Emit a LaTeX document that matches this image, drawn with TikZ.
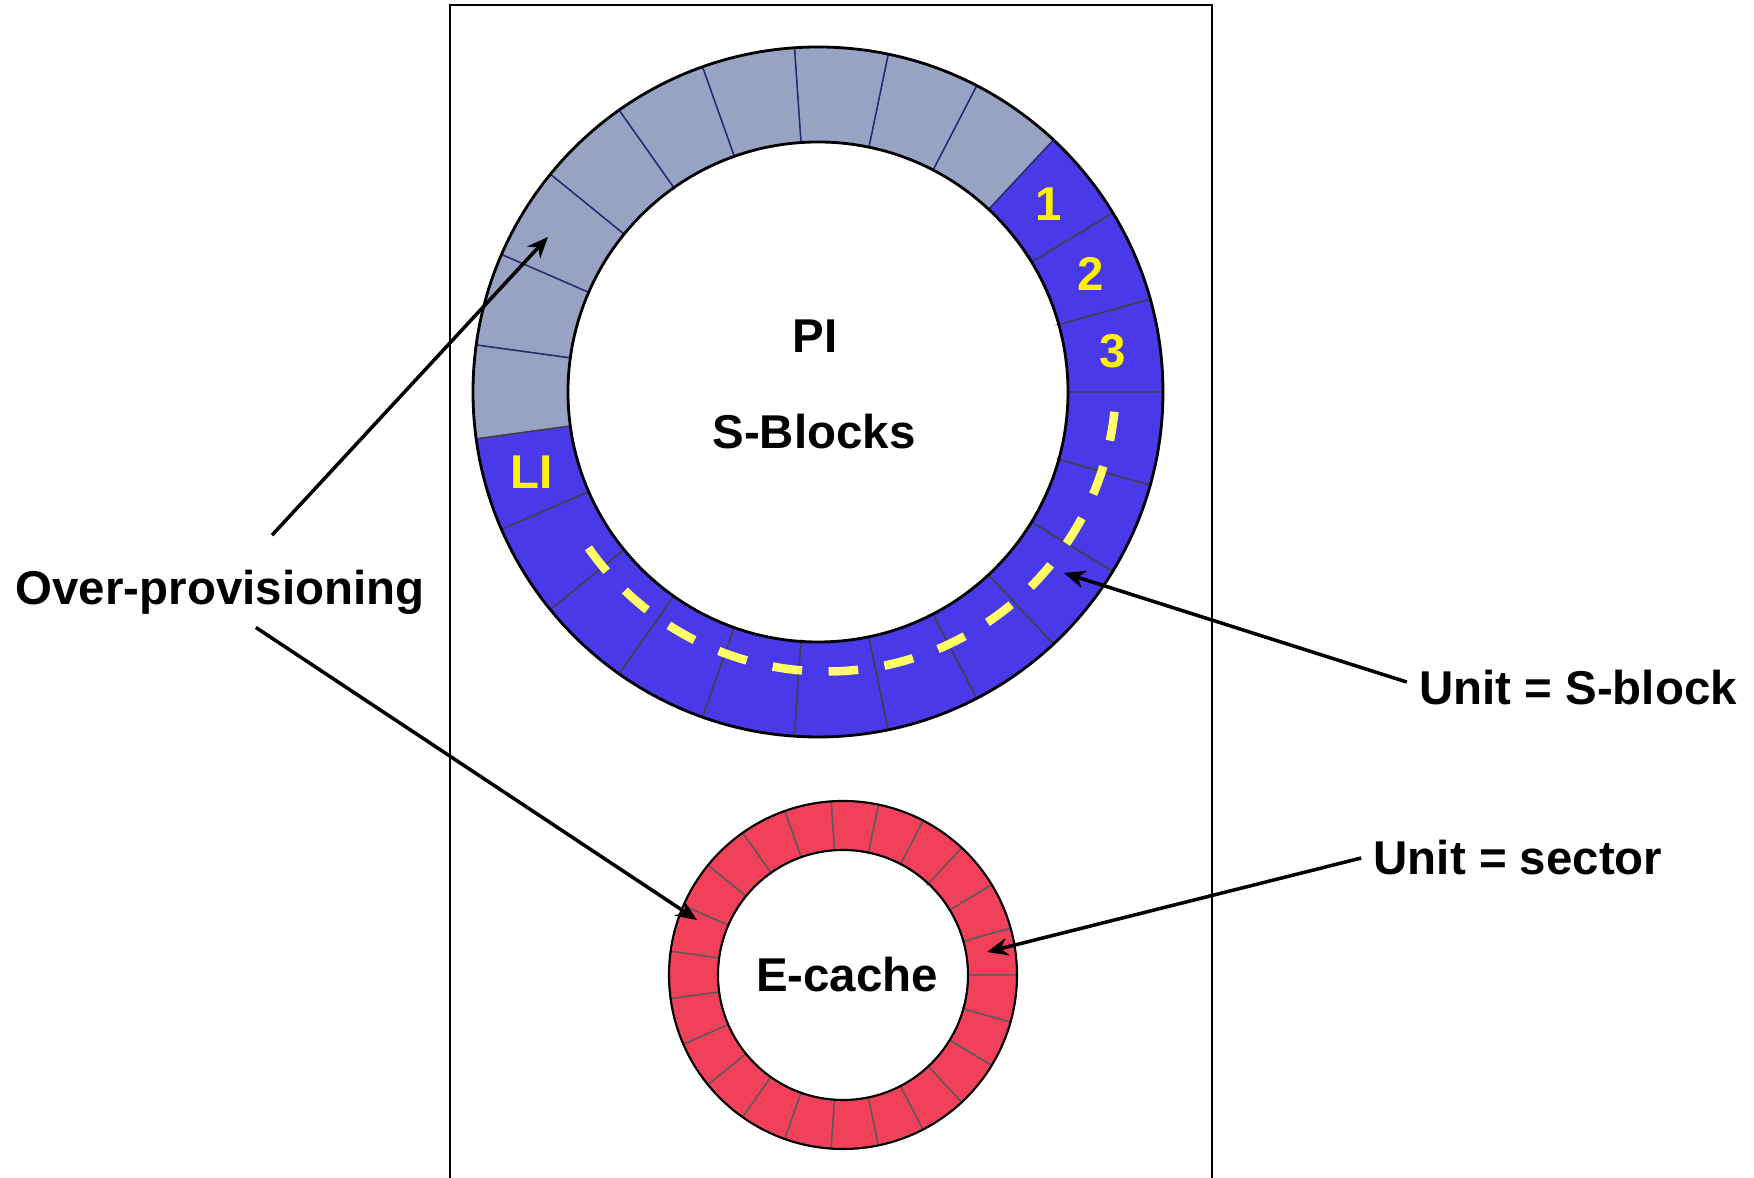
\documentclass[tikz,border=0pt]{standalone}
\usepackage{fontspec}
\setmainfont{Liberation Sans}
\usetikzlibrary{calc,arrows.meta}
\definecolor{opgray}{RGB}{152,162,195}
\definecolor{sblue}{RGB}{74,57,232}
\definecolor{ered}{RGB}{240,64,90}
\definecolor{dashyel}{RGB}{255,255,102}
\definecolor{navyline}{RGB}{40,40,110}
\tikzset{
  numlab/.style={text=yellow},
  zeiger/.style={->,line width=1pt},
  ringrand/.style={line width=0.8pt}
}

\begin{document}
\begin{tikzpicture}[font=\bfseries\fontsize{13.5}{16}\selectfont,>={Stealth[length=6pt,width=5pt]}]
\useasboundingbox (0,0) rectangle (17.54,11.78);
\draw[line width=0.6pt] (4.5,0) -- (4.5,11.73) -- (12.12,11.73) -- (12.12,0);
% Ring PI: 23 Segmente, grau = Reserve
\coordinate (pi) at (8.18,7.86);
\begin{scope}[shift={(pi)}]
\foreach \k in {0,...,22}{
  \pgfmathsetmacro\a{\k*360/23} \pgfmathsetmacro\b{(\k+1)*360/23}
  \ifnum\k>2 \ifnum\k<12 \def\segfill{opgray}\def\segline{navyline}\else\def\segfill{sblue}\def\segline{black!75}\fi\else\def\segfill{sblue}\def\segline{black!75}\fi
  \filldraw[fill=\segfill,draw=\segline,line width=0.4pt] (\a:2.5) -- (\a:3.45) arc[start angle=\a,end angle=\b,radius=3.45] -- (\b:2.5) arc[start angle=\b,end angle=\a,radius=2.5] -- cycle;
}
\draw[ringrand] (0,0) circle (3.45) (0,0) circle (2.5);
% Schreibweg
\draw[dashyel,line width=0.085cm,dash pattern=on 0.296cm off 0.266cm] ([shift={(215:2.9)}]0.08,0.105) arc[start angle=215,end angle=354,radius=2.9];
\node[numlab] (n1) at ({2.5*360/23}:2.97) {1};
\node[numlab] (n2) at ({1.5*360/23}:2.97) {2};
\node[numlab] (n3) at ({0.5*360/23}:2.97) {3};
\node[numlab] (li) at ({12.5*360/23}:2.97) {LI};
\end{scope}
\node[anchor=base] (pilab) at (8.15,8.25) {PI};
\node[anchor=base] (sblocks) at (8.14,7.29) {S-Blocks};
% Ring E-cache
\coordinate (ec) at (8.43,2.03);
\begin{scope}[shift={(ec)}]
\foreach \k in {0,...,22}{
  \pgfmathsetmacro\a{\k*360/23} \pgfmathsetmacro\b{(\k+1)*360/23}
  \filldraw[fill=ered,draw=black!65,line width=0.4pt] (\a:1.25) -- (\a:1.74) arc[start angle=\a,end angle=\b,radius=1.74] -- (\b:1.25) arc[start angle=\b,end angle=\a,radius=1.25] -- cycle;
}
\draw[ringrand,line width=0.6pt] (0,0) circle (1.74) (0,0) circle (1.25);
\end{scope}
\node[anchor=base] (ecache) at (8.47,1.86) {E-cache};
% Beschriftung + Pfeile
\node[anchor=base] (over) at (2.20,5.73) {Over-provisioning};
\node[anchor=base] (unitsb) at (15.78,4.73) {Unit = S-block};
\node[anchor=base] (unitsec) at (15.18,3.03) {Unit = sector};
\coordinate (opgray-pt) at (5.48,9.41);
\coordinate (opred-pt) at (6.97,2.58);
\coordinate (sblk-pt) at (10.64,6.05);
\coordinate (sec-pt) at (9.87,2.26);
\draw[zeiger] ($(over.north)+(0.52,0.23)$) -- (opgray-pt);
\draw[zeiger] (over.-44) -- (opred-pt);
\draw[zeiger] ([yshift=0.06cm]unitsb.west) -- (sblk-pt);
\draw[zeiger] (unitsec.west) -- (sec-pt);
\end{tikzpicture}
\end{document}
